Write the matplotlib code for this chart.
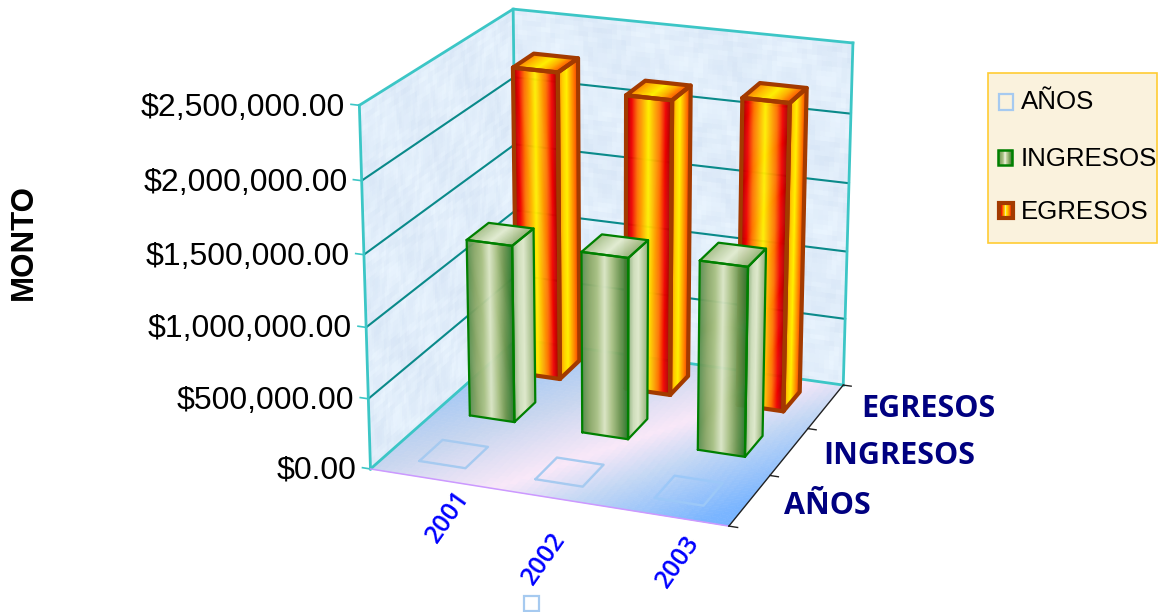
# -*- coding: utf-8 -*-
import numpy as np
import matplotlib
matplotlib.use('Agg')
import matplotlib.pyplot as plt
from matplotlib.colors import to_rgb
from matplotlib.patches import Rectangle
from mpl_toolkits.mplot3d import proj3d
from mpl_toolkits.mplot3d.art3d import Poly3DCollection

# datos
anios_cat = ['2001', '2002', '2003']
series = ['AÑOS', 'INGRESOS', 'EGRESOS']
anios = [2001, 2002, 2003]
ingresos = [1280000, 1300000, 1345000]
egresos = [2260000, 2150000, 2220000]
z_ticks = [0, 500000, 1000000, 1500000, 2000000, 2500000]
z_labels = ['$0.00', '$500,000.00', '$1,000,000.00', '$1,500,000.00', '$2,000,000.00', '$2,500,000.00']

Z_MAX = 2500000
BAR_W = 0.40
BAR_D = 0.45

# gradientes de las barras
rojo_frente = ['#a00000', '#f00000', '#ff7000', '#ffb000', '#fff000', '#ffb000', '#ff7000', '#f00000', '#a00000']
rojo_lado = ['#ff9000', '#ffd000', '#fff000', '#ffb000', '#ff7000', '#f03000']
rojo_arriba = ['#ff8000', '#ffc000', '#fff000', '#ffb000', '#ff5000']
verde_frente = ['#5a8f50', '#8aa868', '#a9c184', '#dbe6c6', '#a9c184', '#6d9650', '#2f7a2f']
verde_lado = ['#9ab98a', '#cfdebc', '#dfe9cd', '#b9cda0', '#8fb07c']
verde_arriba = ['#a8c08c', '#c7d7b0', '#e2ecd2', '#c0d2a8', '#9ab880']
ROJO_BORDE = '#a33a00'
VERDE_BORDE = '#008000'
TEAL = '#3cc6c6'
TEAL_OSC = '#0a8a8a'


def px(x, y):
    return x / 1166.0, 1 - y / 612.0


def rampa(stops, n, pos=None):
    cols = np.array([to_rgb(c) for c in stops])
    t = np.linspace(0, 1, n)
    if pos is None:
        pos = np.linspace(0, 1, len(stops))
    return np.column_stack([np.interp(t, pos, cols[:, i]) for i in range(3)])


fig = plt.figure(figsize=(11.66, 6.12), dpi=100)
fig.patch.set_facecolor('white')
plt.rcParams['font.family'] = ['Liberation Sans', 'DejaVu Sans']

# camara ajustada a las esquinas del grafico
S = 3402.49
TX = 614.97
TY = 358.92
ax = fig.add_axes([0, 0, 1, 1], projection='3d', computed_zorder=False)
vl = ax.viewLim
L = S * vl.width
ax.set_position([(TX + S * vl.x0) / 1166.0, (TY + S * vl.y0) / 612.0, L / 1166.0, L / 612.0])
ax.view_init(19.6818, -69.1587)
ax.set_proj_type('persp', focal_length=0.8628)
ax.set_box_aspect((1, 1.0069, 1.0031))
ax.set_axis_off()
ax.patch.set_alpha(0)
ax.set_xlim(0, 3)
ax.set_ylim(0, 3)
ax.set_zlim(0, Z_MAX)


def cara(p00, p10, p01, p11, stops, z, n=48):
    # cara dividida en tiras verticales para hacer el degradado
    p00, p10, p01, p11 = [np.array(p, float) for p in (p00, p10, p01, p11)]
    t = np.linspace(0, 1, n + 1)
    verts = []
    for a, b in zip(t[:-1], t[1:]):
        verts.append([p00 + (p10 - p00) * a, p00 + (p10 - p00) * b,
                      p01 + (p11 - p01) * b, p01 + (p11 - p01) * a])
    cols = rampa(stops, n)
    pc = Poly3DCollection(verts, facecolors=cols, edgecolors=cols, linewidths=0.4, zorder=z)
    ax.add_collection3d(pc)


def borde(poly, color, lw, z):
    xs, ys, zs = zip(*(list(poly) + [poly[0]]))
    ax.plot(xs, ys, zs, color=color, lw=lw, zorder=z, solid_joinstyle='round', solid_capstyle='round')


def barra(xc, yc, val, frente, lado, arriba, color, lw, z):
    x0, x1 = xc - BAR_W / 2, xc + BAR_W / 2
    y0, y1 = yc - BAR_D / 2, yc + BAR_D / 2
    cara((x0, y0, 0), (x1, y0, 0), (x0, y0, val), (x1, y0, val), frente, z)
    cara((x1, y0, 0), (x1, y1, 0), (x1, y0, val), (x1, y1, val), lado, z)
    cara((x0, y0, val), (x1, y0, val), (x0, y1, val), (x1, y1, val), arriba, z)
    borde([(x0, y0, 0), (x1, y0, 0), (x1, y0, val), (x0, y0, val)], color, lw, z + 0.1)
    borde([(x1, y0, 0), (x1, y1, 0), (x1, y1, val), (x1, y0, val)], color, lw, z + 0.1)
    borde([(x0, y0, val), (x1, y0, val), (x1, y1, val), (x0, y1, val)], color, lw, z + 0.1)


def pared(punto, z):
    # textura suave de las paredes, solo decorativa
    N = 70
    claro, oscuro = np.array(to_rgb('#e9f4fe')), np.array(to_rgb('#d8e6f6'))
    verts, cols = [], []
    for i in range(N):
        for j in range(N):
            a, b, c, d = i / N, (i + 1) / N, j / N, (j + 1) / N
            verts.append([punto(a, c), punto(b, c), punto(b, d), punto(a, d)])
            m = (np.sin(31 * a + 7 * np.sin(23 * c)) + np.sin(43 * c + 5 * np.sin(29 * a))
                 + np.sin(17 * (a + c))) / 6.0 + 0.5
            cols.append(claro + (oscuro - claro) * m)
    ax.add_collection3d(Poly3DCollection(verts, facecolors=cols, edgecolors=cols, linewidths=0.4, zorder=z))


pared(lambda a, c: (0, 3 * a, Z_MAX * c), 1)
pared(lambda a, c: (3 * a, 3, Z_MAX * c), 1)

# piso con degradado diagonal
N = 50
piso_rgb = rampa(['#8ebff7', '#c8d6ef', '#f9e8f8', '#c4d8f4', '#7ab5ff', '#78b4ff'], 201,
                 [0, 0.35, 0.58, 0.72, 0.95, 1])
verts, cols = [], []
for i in range(N):
    for j in range(N):
        xa, xb = 3.0 * i / N, 3.0 * (i + 1) / N
        ya, yb = 3.0 * j / N, 3.0 * (j + 1) / N
        verts.append([(xa, ya, 0), (xb, ya, 0), (xb, yb, 0), (xa, yb, 0)])
        t = (2.25 * (xa + xb) / 2 - 1.2 * (ya + yb) / 2 + 3.6) / 10.35
        cols.append(piso_rgb[int(t * 200)])
ax.add_collection3d(Poly3DCollection(verts, facecolors=cols, edgecolors=cols, linewidths=0.4, zorder=2))

# lineas de division
for v in z_ticks[1:-1]:
    ax.plot([0, 0, 3], [0, 3, 3], [v, v, v], color=TEAL_OSC, lw=1.5, zorder=3)
for (xs, ys, zs) in [([0, 0], [0, 0], [0, Z_MAX]),
                     ([0, 0], [3, 3], [0, Z_MAX]),
                     ([3, 3], [3, 3], [0, Z_MAX]),
                     ([0, 0, 3], [0, 3, 3], [Z_MAX, Z_MAX, Z_MAX]),
                     ([0, 0, 3], [0, 3, 3], [0, 0, 0])]:
    ax.plot(xs, ys, zs, color=TEAL, lw=2.0, zorder=3)
ax.plot([0, 3], [0, 0], [0, 0], color='#cc99ff', lw=1.1, zorder=4)
ax.plot([3, 3], [0, 3], [0, 0], color='#222222', lw=1.0, zorder=4)

# marcas de los ejes
M = ax.get_proj()
for v, lab in zip(z_ticks, z_labels):
    ax.plot([-0.07, 0], [0, 0], [v, v], color=TEAL, lw=1.2, zorder=3)
    x2, y2, _ = proj3d.proj_transform(-0.12, 0, v, M)
    ax.text2D(x2, y2 - 4.0 / S, lab, transform=ax.transData, ha='right', va='center',
              fontsize=23, color='black')
for j in range(4):
    ax.plot([3, 3.07], [j, j], [0, 0], color='#222222', lw=1.0, zorder=4)

# serie AÑOS: casi nada sobre el piso
for i, v in enumerate(anios):
    xc, yc = i + 0.5, 0.5
    x0, x1, y0, y1 = xc - BAR_W / 2, xc + BAR_W / 2, yc - BAR_D / 2, yc + BAR_D / 2
    col = ['#a6caf0', '#a6caf0', '#9cc8f8'][i]
    borde([(x0, y0, v), (x1, y0, v), (x1, y1, v), (x0, y1, v)], col, 1.7, 5)

# barras, de atras hacia adelante
for i, v in enumerate(egresos):
    barra(i + 0.5, 2.5, v, rojo_frente, rojo_lado, rojo_arriba, ROJO_BORDE, 3.0, 10 + i)
for i, v in enumerate(ingresos):
    barra(i + 0.5, 1.5, v, verde_frente, verde_lado, verde_arriba, VERDE_BORDE, 1.6, 20 + i)

# etiquetas
fig.text(*px(24, 242), 'MONTO', rotation=90, ha='center', va='center', fontsize=22.5, fontweight='bold')
for lab, (x, y) in zip(anios_cat, [(448, 517), (544, 559), (678, 562)]):
    fig.text(*px(x, y), lab, rotation=55, ha='center', va='center', fontsize=18, color='#0000ff',
             rotation_mode='anchor', fontweight='semibold', family=['Open Sans', 'DejaVu Sans'])
for lab, (x, y) in zip(series, [(784, 506), (823, 456), (861, 409)]):
    fig.text(*px(x, y), lab, ha='left', va='center', fontsize=22, fontweight='bold', color='#000080',
             family=['Open Sans', 'DejaVu Sans'])

# leyenda
fig.add_artist(Rectangle(px(988, 243), 169 / 1166.0, 170 / 612.0, transform=fig.transFigure,
                         facecolor='#faf2dd', edgecolor='#ffcc33', lw=1.2, zorder=1))


def clave(xc, yc, stops, borde_col, lw, w=15):
    n = 15
    cols = rampa(stops, n)
    for k in range(n):
        fig.add_artist(Rectangle(px(xc - w / 2 + k * w / n, yc + w / 2), w / n / 1166.0, w / 612.0,
                                 transform=fig.transFigure, facecolor=cols[k], edgecolor=cols[k],
                                 lw=0.2, zorder=2))
    fig.add_artist(Rectangle(px(xc - w / 2, yc + w / 2), w / 1166.0, w / 612.0, transform=fig.transFigure,
                             facecolor='none', edgecolor=borde_col, lw=lw, zorder=3))


clave(1006, 102, ['#faf2dd', '#faf2dd'], '#a6caf0', 1.6)
clave(1005, 158, verde_frente, VERDE_BORDE, 1.8)
clave(1006, 210, rojo_frente, ROJO_BORDE, 3.0)
for lab, y in zip(series, [102, 159, 212]):
    fig.text(*px(1021, y), lab, ha='left', va='center', fontsize=18.6, color='black', zorder=4)

clave(531, 603, ['#ffffff', '#ffffff'], '#a6caf0', 1.6, w=15)

fig.savefig('out.png', dpi=100)
